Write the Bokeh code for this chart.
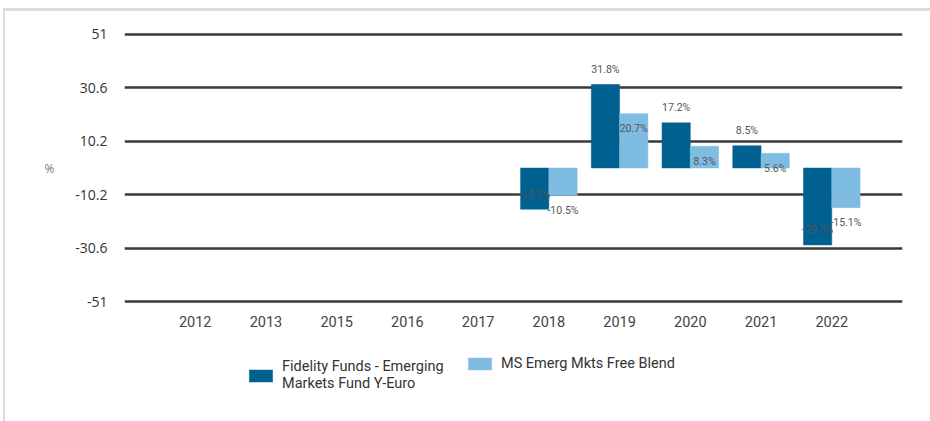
import numpy as np
from bokeh.plotting import figure
from bokeh.layouts import column
from bokeh.models import (ColumnDataSource, Range1d, FixedTicker, LabelSet,
                          Legend, LegendItem)
from bokeh.core.properties import value
from bokeh.embed import file_html
from bokeh.resources import INLINE

years = ["2012", "2013", "2015", "2016", "2017", "2018", "2019", "2020", "2021", "2022"]
fund = [None, None, None, None, None, -15.7, 31.8, 17.2, 8.5, -29.3]
bench = [None, None, None, None, None, -10.5, 20.7, 8.3, 5.6, -15.1]
fund_name = "Fidelity Funds - Emerging\nMarkets Fund Y-Euro"
bench_name = "MS Emerg Mkts Free Blend"
y_ticks = [-51, -30.6, -10.2, 10.2, 30.6, 51]
y_tick_labels = ["-51", "-30.6", "-10.2", "10.2", "30.6", "51"]

DARK = "#00608f"
LIGHT = "#7fbce2"
W = 0.4

pos = np.arange(1, len(years) + 1)


def series_source(vals, shift):
    xs, ys, txt = [], [], []
    for p_, v in zip(pos, vals):
        if v is None:
            continue
        xs.append(p_ + shift)
        ys.append(v)
        txt.append(f"{v:.1f}%")
    return ColumnDataSource(dict(x=xs, top=ys, txt=txt))


src_f = series_source(fund, -W / 2)
src_b = series_source(bench, W / 2)

p = figure(width=925, height=330, output_backend="svg", toolbar_location=None,
           x_range=Range1d(0, len(years) + 1), y_range=Range1d(-52, 52),
           min_border_left=119, min_border_right=28, min_border_top=20,
           min_border_bottom=37)
p.outline_line_color = None

r_f = p.vbar(x="x", top="top", bottom=0, width=W, source=src_f,
             fill_color=DARK, line_color=DARK, line_width=0.5)
r_b = p.vbar(x="x", top="top", bottom=0, width=W, source=src_b,
             fill_color=LIGHT, line_color=LIGHT, line_width=0.5)

lab_style = dict(text_font_size="10.5px", text_color="#555555", text_font=value("Roboto"),
                 text_align="center", text_baseline="middle")
p.add_layout(LabelSet(x="x", y="top", text="txt", source=src_f, y_offset=15, **lab_style))
p.add_layout(LabelSet(x="x", y="top", text="txt", source=src_b, y_offset=-15, **lab_style))

# axes
p.xaxis.ticker = FixedTicker(ticks=list(pos))
p.xaxis.major_label_overrides = {int(k): v for k, v in zip(pos, years)}
p.xaxis.axis_line_color = None
p.xaxis.major_tick_line_color = None
p.xaxis.minor_tick_line_color = None
p.xaxis.major_label_text_font = "Roboto"
p.xaxis.major_label_text_font_size = "14.5px"
p.xaxis.major_label_text_color = "#444444"
p.xaxis.major_label_standoff = 5

p.yaxis.ticker = FixedTicker(ticks=y_ticks)
p.yaxis.major_label_overrides = dict(zip(y_ticks, y_tick_labels))
p.yaxis.axis_line_color = None
p.yaxis.major_tick_line_color = None
p.yaxis.minor_tick_line_color = None
p.yaxis.major_label_text_font = "Open Sans"
p.yaxis.major_label_text_font_size = "14px"
p.yaxis.major_label_text_color = "#333333"
p.yaxis.major_label_standoff = 11
p.yaxis.axis_label = "%"
p.yaxis.axis_label_orientation = "horizontal"
p.yaxis.axis_label_text_font = "Open Sans"
p.yaxis.axis_label_text_font_style = "normal"
p.yaxis.axis_label_text_font_size = "12px"
p.yaxis.axis_label_text_color = "#777777"
p.yaxis.axis_label_standoff = 18

p.xgrid.grid_line_color = None
p.ygrid.ticker = FixedTicker(ticks=y_ticks)
p.ygrid.grid_line_color = "#3a3a3a"
p.ygrid.grid_line_width = 2.3

# legend panel (separate small figure holding swatch renderers)
lg = figure(width=925, height=80, output_backend="svg", toolbar_location=None,
            x_range=Range1d(0, 1), y_range=Range1d(0, 1),
            min_border=0, outline_line_color=None)
lg.axis.visible = False
lg.grid.visible = False
off = dict(x=[-5], top=[0])  # off-screen swatch carriers
l_f = lg.vbar(x="x", top="top", bottom=0, width=W, source=ColumnDataSource(off),
              fill_color=DARK, line_color=DARK, line_width=0.5)
l_b = lg.vbar(x="x", top="top", bottom=0, width=W, source=ColumnDataSource(off),
              fill_color=LIGHT, line_color=LIGHT, line_width=0.5)

leg_style = dict(orientation="horizontal", padding=0, margin=0, label_standoff=7,
                 glyph_width=29, glyph_height=15,
                 border_line_color=None, background_fill_alpha=0,
                 label_text_font="Roboto", label_text_font_size="14.5px",
                 label_text_color="#333333", label_text_line_height=1.5)
leg_a = Legend(items=[LegendItem(label=fund_name, renderers=[l_f])],
               location=(122, 29), **leg_style)
leg_b = Legend(items=[LegendItem(label=bench_name, renderers=[l_b])],
               location=(341, 49), **leg_style)
lg.add_layout(leg_a, "center")
lg.add_layout(leg_b, "center")

layout = column(p, lg, spacing=0,
                styles={"margin-left": "3px", "margin-top": "8px",
                        "border-left": "2px solid #dcdcdc",
                        "border-top": "3px solid #dcdcdc"})

open("out.html", "w").write(file_html(layout, INLINE))
